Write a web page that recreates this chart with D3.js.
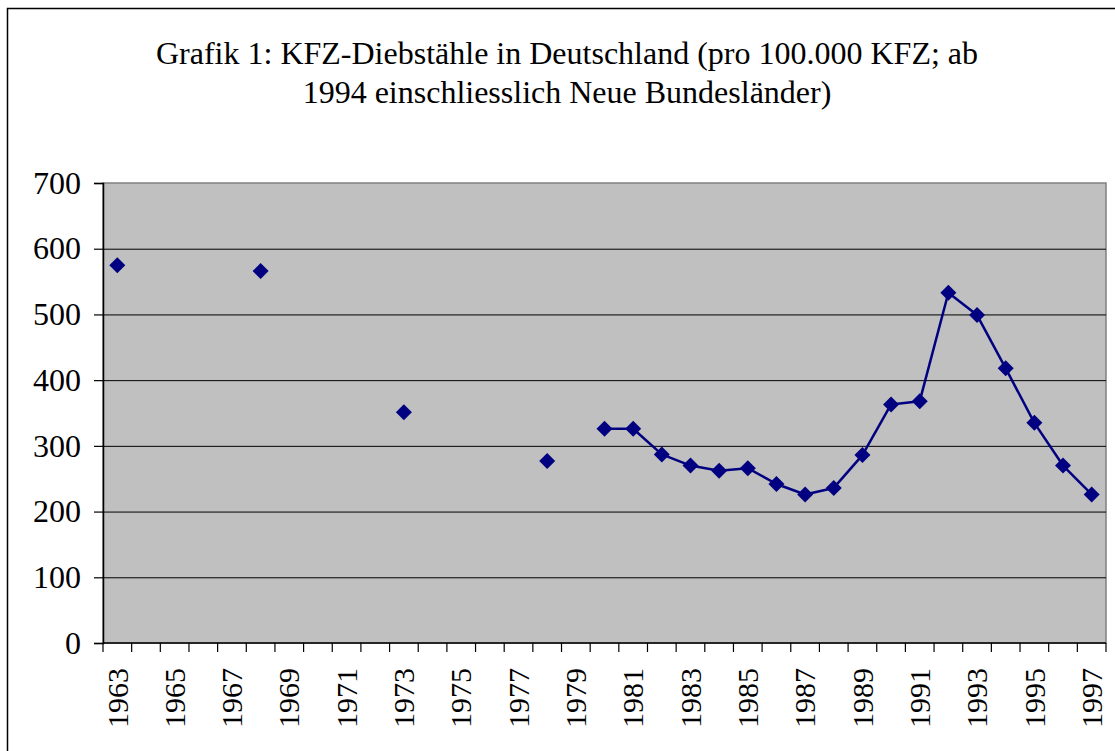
<!DOCTYPE html>
<meta charset="utf-8">
<style>
  body { margin: 0; background: #fff; }
  text { font-family: "Liberation Serif", "Times New Roman", serif; fill: #000; }
</style>
<svg width="1115" height="751"></svg>
<script src="https://d3js.org/d3.v7.min.js"></script>
<script>
// years on the category axis
var years = d3.range(1963, 1998);
// observed values (pro 100.000 KFZ)
var pointYears = [1963, 1968, 1973, 1978, 1980, 1981, 1982, 1983, 1984, 1985, 1986, 1987, 1988, 1989, 1990, 1991, 1992, 1993, 1994, 1995, 1996, 1997];
var pointValues = [575, 566, 351, 277, 326, 326, 287, 270, 262, 266, 242, 226, 236, 286, 363, 368, 533, 499, 418, 335, 270, 226];
var yTicks = [0, 100, 200, 300, 400, 500, 600, 700];
var titleLines = ["Grafik 1: KFZ-Diebstähle in Deutschland (pro 100.000 KFZ; ab", "1994 einschliesslich Neue Bundesländer)"];

var svg = d3.select("svg");

// outer frame
svg.append("rect")
    .attr("x", 7.5).attr("y", 8.5)
    .attr("width", 1120).attr("height", 760)
    .attr("fill", "#fff").attr("stroke", "#000").attr("stroke-width", 1.5);

var pLeft = 103, pRight = 1106, pTop = 183, pBottom = 643;

var x = d3.scaleBand().domain(years).range([pLeft, pRight]);
var y = d3.scaleLinear().domain([0, 700]).range([pBottom, pTop]);

svg.append("rect")
    .attr("x", pLeft).attr("y", pTop)
    .attr("width", pRight - pLeft).attr("height", pBottom - pTop)
    .attr("fill", "#c0c0c0").attr("stroke", "#808080").attr("stroke-width", 1.5);

// gridlines
svg.append("g").selectAll("line")
  .data(yTicks.filter(function(d) { return d > 0 && d < 700; }))
  .enter().append("line")
    .attr("x1", pLeft).attr("x2", pRight)
    .attr("y1", function(d) { return y(d) + 0.5; })
    .attr("y2", function(d) { return y(d) + 0.5; })
    .attr("stroke", "#000").attr("stroke-width", 1);

// y axis
var yAxis = svg.append("g")
    .attr("transform", "translate(" + pLeft + ",0)")
    .call(d3.axisLeft(y).tickValues(yTicks).tickSize(9).tickPadding(13));
yAxis.select(".domain").attr("stroke", "#000").attr("stroke-width", 1.5);
yAxis.selectAll(".tick line").attr("stroke", "#000").attr("stroke-width", 1.2);
yAxis.selectAll("text")
    .style("font-family", "'Liberation Serif', 'Times New Roman', serif")
    .style("font-size", "32px").attr("fill", "#000");

// x axis: ticks at category boundaries
var xAxisG = svg.append("g");
xAxisG.append("line")
    .attr("x1", pLeft).attr("x2", pRight)
    .attr("y1", pBottom).attr("y2", pBottom)
    .attr("stroke", "#000").attr("stroke-width", 1.5);
xAxisG.selectAll("line.tk")
  .data(years.concat([1998]))
  .enter().append("line")
    .attr("class", "tk")
    .attr("x1", function(d) { return d === 1998 ? pRight : x(d); })
    .attr("x2", function(d) { return d === 1998 ? pRight : x(d); })
    .attr("y1", pBottom).attr("y2", pBottom + 9)
    .attr("stroke", "#000").attr("stroke-width", 1.2);
xAxisG.selectAll("text")
  .data(years.filter(function(d) { return (d - 1963) % 2 === 0; }))
  .enter().append("text")
    .attr("transform", function(d) {
      return "translate(" + (x(d) + x.bandwidth() / 2) + "," + (pBottom + 25) + ") rotate(-90)";
    })
    .attr("text-anchor", "end")
    .attr("dy", "0.34em")
    .style("font-size", "30px")
    .text(function(d) { return d; });

// title
svg.append("g").selectAll("text")
  .data(titleLines)
  .enter().append("text")
    .attr("x", 567)
    .attr("y", function(d, i) { return 64 + i * 39; })
    .attr("text-anchor", "middle")
    .style("font-size", "32px")
    .text(function(d) { return d; });

// line only between consecutive years
var pts = pointYears.map(function(d, i) { return { year: d, value: pointValues[i] }; });
var cx = function(d) { return x(d.year) + x.bandwidth() / 2; };
var segs = [];
pts.forEach(function(d, i) {
  if (i > 0 && pts[i - 1].year === d.year - 1) segs.push([pts[i - 1], d]);
});
svg.append("g").selectAll("path")
  .data(segs)
  .enter().append("path")
    .attr("d", d3.line().x(cx).y(function(d) { return y(d.value); }))
    .attr("fill", "none").attr("stroke", "#000080").attr("stroke-width", 2.5);

svg.append("g").selectAll("path")
  .data(pts)
  .enter().append("path")
    .attr("transform", function(d) { return "translate(" + cx(d) + "," + y(d.value) + ")"; })
    .attr("d", "M0,-8L8,0L0,8L-8,0Z")
    .attr("fill", "#000080");
</script>
